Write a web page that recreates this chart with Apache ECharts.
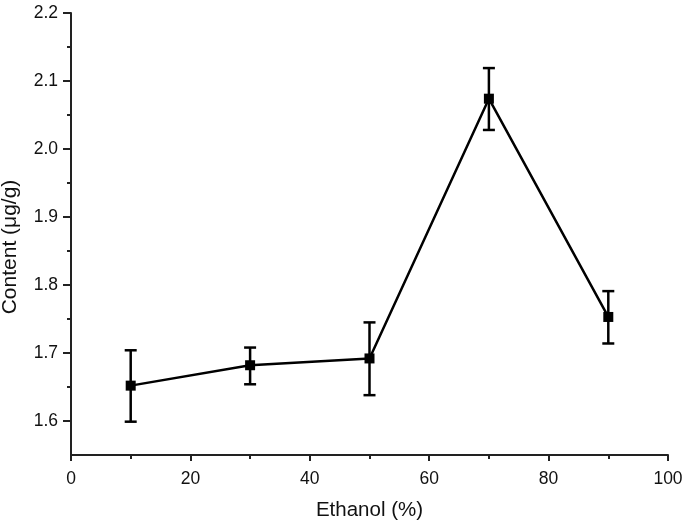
<!DOCTYPE html>
<html>
<head>
<meta charset="utf-8">
<style>html,body{margin:0;padding:0;background:#fff;}#c{width:685px;height:523px;}</style>
<script src="https://cdn.jsdelivr.net/npm/echarts@6/dist/echarts.min.js"></script>
</head>
<body>
<div id="c"></div>
<script>
const ethanol = [10, 30, 50, 70, 90];
const content = [1.652, 1.682, 1.692, 2.074, 1.753];
const errLow = [1.599, 1.654, 1.638, 2.028, 1.714];
const errHigh = [1.704, 1.708, 1.745, 2.119, 1.791];
const yMajorTicks = [1.6, 1.7, 1.8, 1.9, 2.0, 2.1, 2.2];
const yMinorTicks = [1.65, 1.75, 1.85, 1.95, 2.05, 2.15];

const chart = echarts.init(document.getElementById('c'));
const axisColor = '#222';
const font = 'Liberation Sans, Arial, sans-serif';
chart.setOption({
  animation: false,
  backgroundColor: '#fff',
  grid: {left: 71, right: 17, top: 13, bottom: 68, containLabel: false, outerBoundsMode: 'none'},
  xAxis: {
    type: 'value', min: 0, max: 100, interval: 20,
    name: 'Ethanol (%)', nameLocation: 'middle', nameGap: 45,
    nameTextStyle: {fontFamily: font, fontSize: 20.5, color: '#111'},
    axisLine: {show: true, lineStyle: {color: axisColor, width: 2}},
    axisTick: {show: true, inside: false, length: 6, lineStyle: {color: axisColor, width: 2}},
    minorTick: {show: true, splitNumber: 2, length: 4, lineStyle: {color: axisColor, width: 2}},
    axisLabel: {fontFamily: font, fontSize: 17.5, color: '#111', margin: 15},
    splitLine: {show: false}
  },
  yAxis: [{
    type: 'value', min: 1.55, max: 2.2,
    name: 'Content (μg/g)', nameLocation: 'middle', nameGap: 50, nameRotate: 90,
    nameTextStyle: {fontFamily: font, fontSize: 21, color: '#111', padding: [0, 26, 0, 0]},
    axisLine: {show: true, lineStyle: {color: axisColor, width: 2}},
    axisTick: {show: true, length: 8, customValues: yMajorTicks, lineStyle: {color: axisColor, width: 2}},
    axisLabel: {fontFamily: font, fontSize: 17.5, color: '#111', margin: 13, customValues: yMajorTicks,
      formatter: v => v.toFixed(1)},
    splitLine: {show: false}
  }, {
    type: 'value', min: 1.55, max: 2.2, position: 'left', offset: 0,
    axisLine: {show: false},
    axisTick: {show: true, length: 4, customValues: yMinorTicks, lineStyle: {color: axisColor, width: 2}},
    axisLabel: {show: false},
    splitLine: {show: false}
  }],
  series: [{
    type: 'line',
    data: ethanol.map((x, i) => [x, content[i]]),
    symbol: 'rect', symbolSize: 10,
    itemStyle: {color: '#000'},
    lineStyle: {color: '#000', width: 2.5},
    z: 3
  }, {
    type: 'custom',
    data: ethanol.map((x, i) => [x, errLow[i], errHigh[i]]),
    renderItem: function (params, api) {
      const x = api.value(0);
      const lo = api.coord([x, api.value(1)]);
      const hi = api.coord([x, api.value(2)]);
      const hw = 6;
      const st = {stroke: '#000', lineWidth: 2.5};
      return {type: 'group', children: [
        {type: 'line', shape: {x1: lo[0], y1: lo[1], x2: hi[0], y2: hi[1]}, style: st},
        {type: 'line', shape: {x1: lo[0] - hw, y1: lo[1], x2: lo[0] + hw, y2: lo[1]}, style: st},
        {type: 'line', shape: {x1: hi[0] - hw, y1: hi[1], x2: hi[0] + hw, y2: hi[1]}, style: st}
      ]};
    },
    z: 2
  }]
});
</script>
</body>
</html>
